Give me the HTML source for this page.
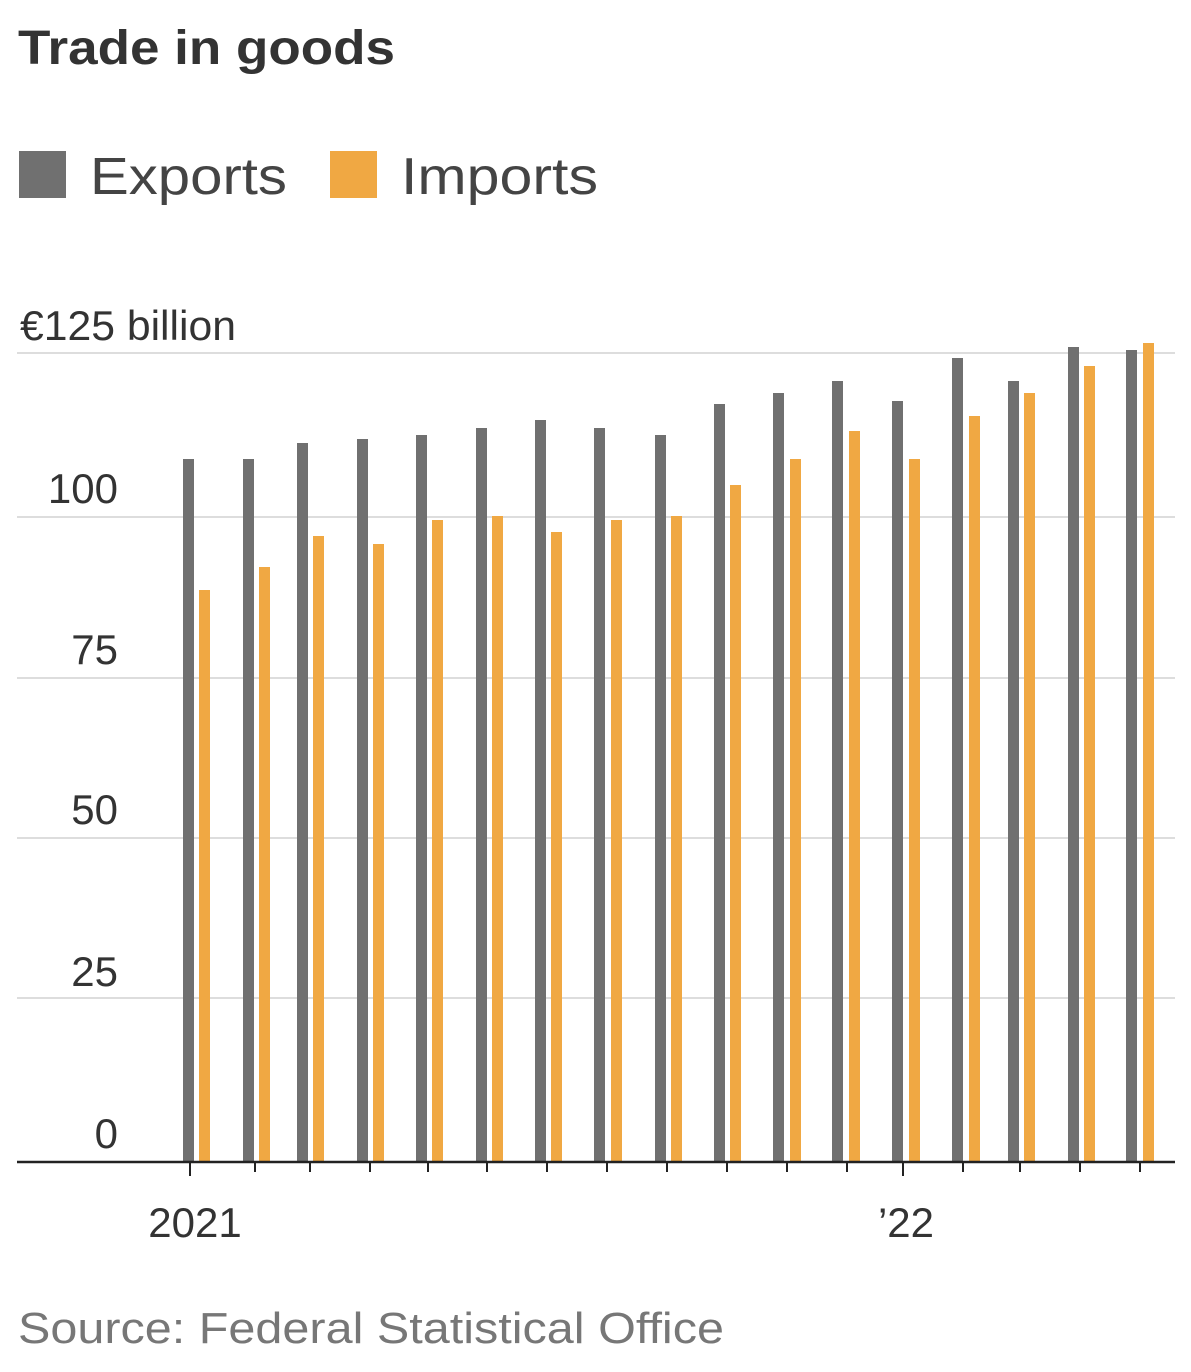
<!DOCTYPE html>
<html><head><meta charset="utf-8"><style>
body{margin:0;background:#fff;width:1191px;height:1367px;overflow:hidden;font-family:"Liberation Sans",sans-serif}
</style></head><body>
<svg width="1191" height="1367" xmlns="http://www.w3.org/2000/svg">
<text x="18" y="64" font-family="Liberation Sans" font-weight="bold" font-size="48" fill="#333" textLength="377" lengthAdjust="spacingAndGlyphs">Trade in goods</text>
<rect x="19" y="151" width="47" height="47" fill="#707070"/>
<text x="90" y="194" font-family="Liberation Sans" font-size="52" fill="#444" textLength="197" lengthAdjust="spacingAndGlyphs">Exports</text>
<rect x="330" y="151" width="47" height="47" fill="#f0a843"/>
<text x="401" y="194" font-family="Liberation Sans" font-size="52" fill="#444" textLength="197" lengthAdjust="spacingAndGlyphs">Imports</text>
<g font-family="Liberation Sans Narrow, Liberation Sans" font-size="42" fill="#333">
<text x="20" y="340" textLength="216" lengthAdjust="spacingAndGlyphs">€125 billion</text>
<text x="118" y="503" text-anchor="end">100</text>
<text x="118" y="664" text-anchor="end">75</text>
<text x="118" y="824" text-anchor="end">50</text>
<text x="118" y="986" text-anchor="end">25</text>
<text x="118" y="1148" text-anchor="end">0</text>
<text x="195" y="1237" text-anchor="middle">2021</text>
<text x="906" y="1237" text-anchor="middle">’22</text>
</g>
<g stroke="#ddd" stroke-width="2">
<line x1="17" y1="353" x2="1175" y2="353"/>
<line x1="17" y1="517" x2="1175" y2="517"/>
<line x1="17" y1="678" x2="1175" y2="678"/>
<line x1="17" y1="838" x2="1175" y2="838"/>
<line x1="17" y1="998" x2="1175" y2="998"/>
</g>
<g id="bars"></g>
<line x1="17" y1="1162" x2="1175" y2="1162" stroke="#222" stroke-width="2.5"/>
<g id="ticks" stroke="#222" stroke-width="2"></g>
<text x="18" y="1343" font-family="Liberation Sans" font-size="44" fill="#777" textLength="706" lengthAdjust="spacingAndGlyphs">Source: Federal Statistical Office</text>
<script>
var ex=[183,243,297,357,416,476,535,594,655,714,773,832,892,952,1008,1068,1126];
var et=[459,459,443,439,435,428,420,428,435,404,393,381,401,358,381,347,350];
var ix=[199,259,313,373,432,492,551,611,671,730,790,849,909,969,1024,1084,1143];
var it=[590,567,536,544,520,516,532,520,516,485,459,431,459,416,393,366,343];
var tx=[190,255,310,370,428,487,547,607,667,727,787,847,903,963,1020,1080,1140];
var ns="http://www.w3.org/2000/svg",b=document.getElementById("bars"),t=document.getElementById("ticks");
for(var i=0;i<17;i++){
 var r=document.createElementNS(ns,"rect");r.setAttribute("x",ex[i]);r.setAttribute("y",et[i]);r.setAttribute("width",11);r.setAttribute("height",1162-et[i]);r.setAttribute("fill","#707070");b.appendChild(r);
 r=document.createElementNS(ns,"rect");r.setAttribute("x",ix[i]);r.setAttribute("y",it[i]);r.setAttribute("width",11);r.setAttribute("height",1162-it[i]);r.setAttribute("fill","#f0a843");b.appendChild(r);
 var l=document.createElementNS(ns,"line");l.setAttribute("x1",tx[i]);l.setAttribute("x2",tx[i]);l.setAttribute("y1",1162);l.setAttribute("y2",(i==0||i==12)?1176:1172);t.appendChild(l);
}
</script>
</svg>
</body></html>
